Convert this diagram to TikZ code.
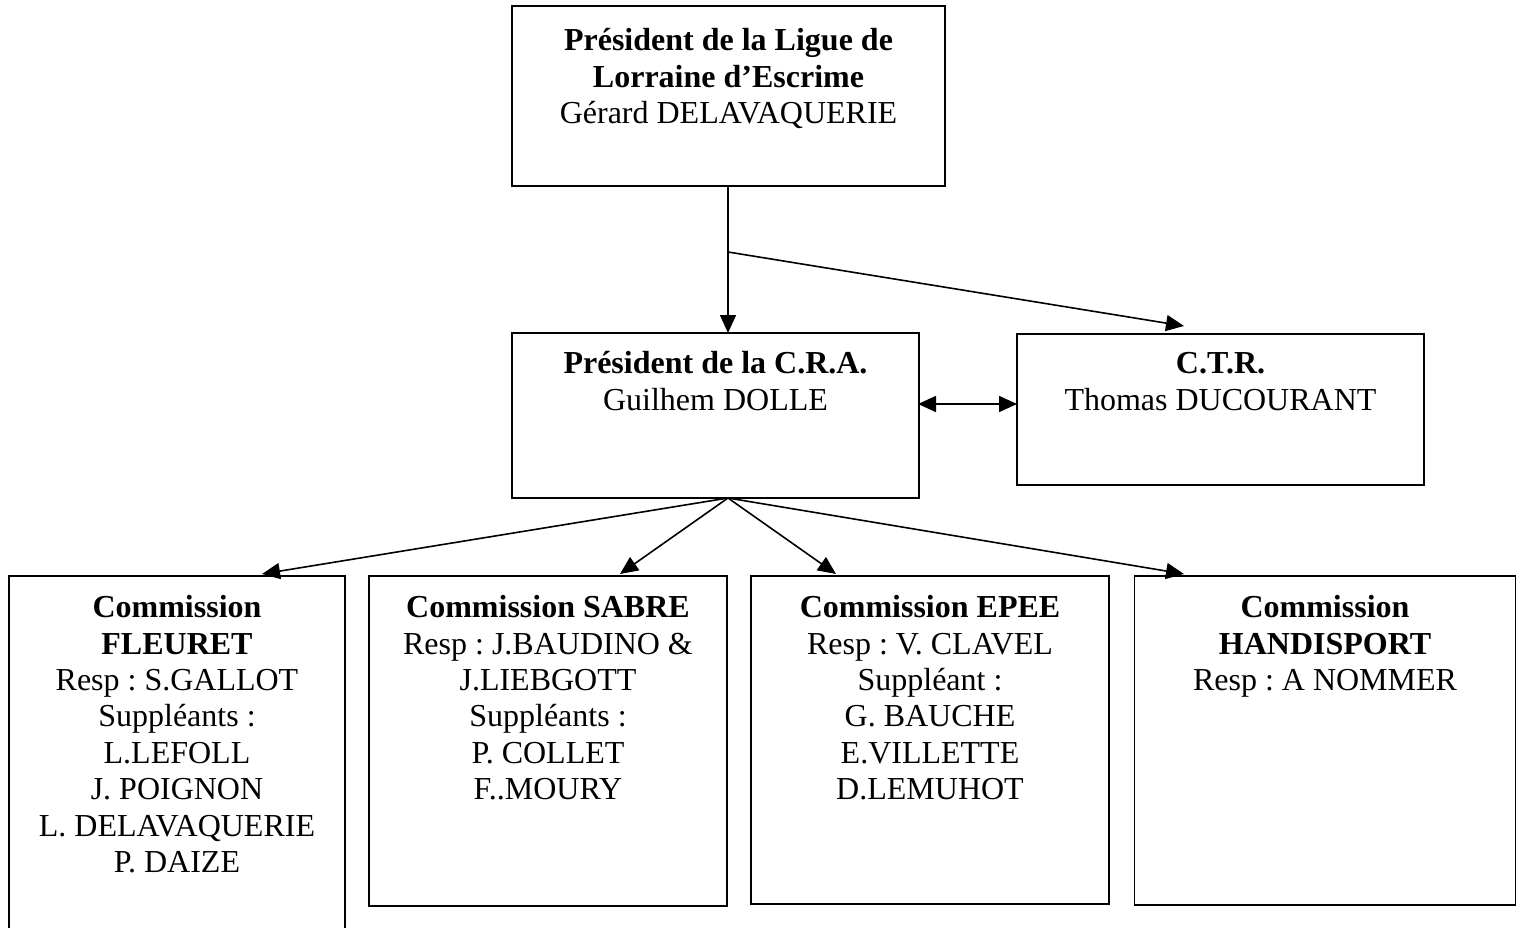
\documentclass[tikz,border=0pt]{standalone}
\usepackage{fontspec}
\setmainfont{Liberation Serif}
\frenchspacing
\usetikzlibrary{arrows.meta,calc}
\begin{document}
\begin{tikzpicture}[x=1pt,y=-1pt,
  box/.style={draw,line width=1.6pt,rectangle,inner sep=0pt,outer sep=0pt},
  txt/.style={anchor=north,align=center,inner sep=0pt,font=\fontsize{32}{36.4}\selectfont\frenchspacing},
  conn/.style={line width=1.6pt,-{Triangle[length=18pt,width=16pt]}},
  dconn/.style={line width=1.6pt,{Triangle[length=18pt,width=16pt]}-{Triangle[length=18pt,width=16pt]}}]
\useasboundingbox (0,0) rectangle (1520,928);
% boxes
\node[box,minimum width=433,minimum height=180] (top) at (728.5,96) {};
\node[box,minimum width=407,minimum height=165] (cra) at (715.5,415.5) {};
\node[box,minimum width=407,minimum height=151] (ctr) at (1220.5,409.5) {};
\node[box,minimum width=336,minimum height=370] (fle) at (177,761) {};
\node[box,minimum width=358,minimum height=330] (sab) at (548,741) {};
\node[box,minimum width=358,minimum height=328] (epe) at (930,740) {};
\node[box,minimum width=381,minimum height=329] (han) at (1325,740.5) {};
% texts
\node[txt] (ttop) at (728.5,25) {\strut\textbf{Président de la Ligue de}\\\textbf{Lorraine d’Escrime}\\Gérard DELAVAQUERIE};
\node[txt] (tcra) at (715.5,348) {\strut\textbf{Président de la C.R.A.}\\Guilhem DOLLE};
\node[txt] (tctr) at (1220.5,348) {\strut\textbf{C.T.R.}\\Thomas DUCOURANT};
\node[txt] (tfle) at (177,592) {\strut\textbf{Commission}\\\textbf{FLEURET}\\Resp : S.GALLOT\\Suppléants :\\L.LEFOLL\\J. POIGNON\\L. DELAVAQUERIE\\P. DAIZE};
\node[txt] (tsab) at (548,592) {\strut\textbf{Commission SABRE}\\Resp : J.BAUDINO \&\\J.LIEBGOTT\\Suppléants :\\P. COLLET\\F..MOURY};
\node[txt] (tepe) at (930,592) {\strut\textbf{Commission EPEE}\\Resp : V. CLAVEL\\Suppléant :\\G. BAUCHE\\E.VILLETTE\\D.LEMUHOT};
\node[txt] (than) at (1325,592) {\strut\textbf{Commission}\\\textbf{HANDISPORT}\\Resp : A NOMMER};
% connector points
\coordinate (tb) at (728,186);
\coordinate (br) at (728,252);
\coordinate (ctrin) at (1184,326);
\coordinate (hub) at (728,498);
\coordinate (dl) at (918,404);
\coordinate (dr) at (1017,404);
\coordinate (fin) at (262,574);
\coordinate (sin) at (620,574);
\coordinate (ein) at (836,574);
\coordinate (hin) at (1184,574);
% connectors
\draw[conn] (tb) -- (tb |- cra.north);
\draw[conn] (br) -- (ctrin);
\draw[dconn] (dl) -- (dr);
\draw[conn] (hub) -- (fin);
\draw[conn] (hub) -- (sin);
\draw[conn] (hub) -- (ein);
\draw[conn] (hub) -- (hin);
\end{tikzpicture}
\end{document}
